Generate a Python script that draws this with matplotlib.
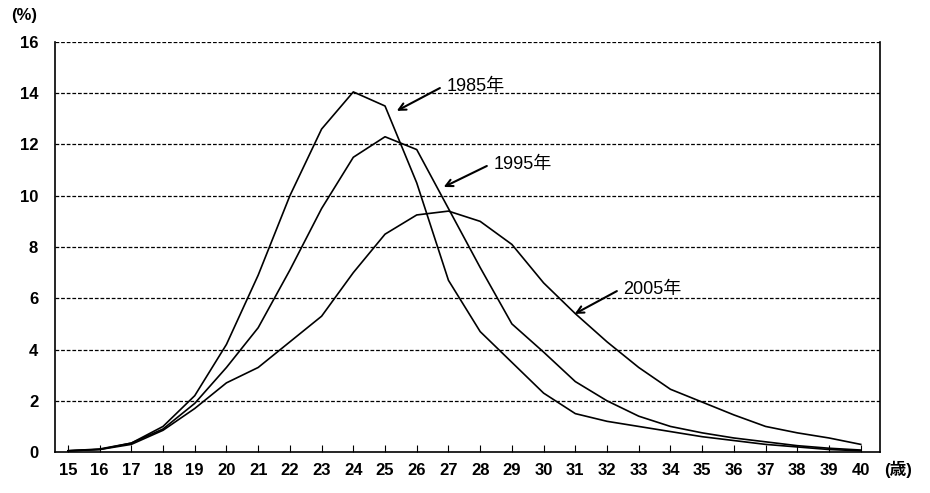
import matplotlib
matplotlib.use("Agg")
import matplotlib.pyplot as plt

plt.rcParams["font.family"] = ["Liberation Sans", "Noto Sans CJK JP"]

# Age-specific share (%) by year
ages = list(range(15, 41))
rate_1985 = [0.05, 0.1, 0.35, 1.0, 2.2, 4.2, 6.9, 10.0, 12.6, 14.05, 13.5, 10.5, 6.7,
             4.7, 3.5, 2.3, 1.5, 1.2, 1.0, 0.8, 0.6, 0.45, 0.3, 0.2, 0.1, 0.05]
rate_1995 = [0.05, 0.12, 0.35, 0.9, 1.9, 3.3, 4.85, 7.1, 9.5, 11.5, 12.3, 11.8, 9.5,
             7.2, 5.0, 3.9, 2.75, 2.0, 1.4, 1.0, 0.75, 0.55, 0.4, 0.25, 0.15, 0.08]
rate_2005 = [0.05, 0.1, 0.3, 0.85, 1.7, 2.7, 3.3, 4.3, 5.3, 7.0, 8.5, 9.25, 9.4,
             9.0, 8.1, 6.6, 5.4, 4.3, 3.3, 2.45, 1.95, 1.45, 1.0, 0.75, 0.55, 0.3]
yticks = [0, 2, 4, 6, 8, 10, 12, 14, 16]

# label text, arrow tail, arrow head (data coords)
labels = ["1985年", "1995年", "2005年"]
label_tail = [(26.73, 14.2), (28.21, 11.16), (32.31, 6.28)]
label_head = [(25.37, 13.31), (26.85, 10.34), (30.98, 5.39)]

fig = plt.figure(figsize=(9.3, 4.93), dpi=100)
ax = fig.add_axes([0.059, 0.083, 0.887, 0.832])

for vals in (rate_1985, rate_1995, rate_2005):
    ax.plot(ages, vals, color="black", lw=1.2)

# dashed horizontal grid (16 line acts as top border)
for y in yticks[1:]:
    ax.axhline(y, color="black", lw=0.9, ls=(0, (3, 1.5)), zorder=0)

ax.set_xlim(14.59, 40.6)
ax.set_ylim(0, 16)
ax.set_xticks(ages)
ax.set_yticks(yticks)
ax.tick_params(axis="x", direction="in", length=5, width=0.8, labelsize=12, pad=8)
ax.tick_params(axis="y", length=0, labelsize=12, pad=12)
for lab in ax.get_xticklabels() + ax.get_yticklabels():
    lab.set_fontweight("bold")
ax.spines["top"].set_visible(False)
for s in ("left", "right", "bottom"):
    ax.spines[s].set_linewidth(1.2)

fig.text(0.012, 0.968, "(%)", fontsize=12, fontweight="bold", ha="left", va="center")
fig.text(0.951, 0.047, "(歳)", fontsize=12, fontweight="bold", ha="left", va="center")

arrow = dict(arrowstyle="->,head_length=0.5,head_width=0.25", color="black",
             lw=1.5, shrinkA=0, shrinkB=0)
for text, tail, head in zip(labels, label_tail, label_head):
    ax.annotate("", xy=head, xytext=tail, arrowprops=arrow)
    ax.text(tail[0] + 0.2, tail[1] + 0.05, text, fontsize=13, ha="left", va="center")

fig.savefig("out.png", dpi=100)
